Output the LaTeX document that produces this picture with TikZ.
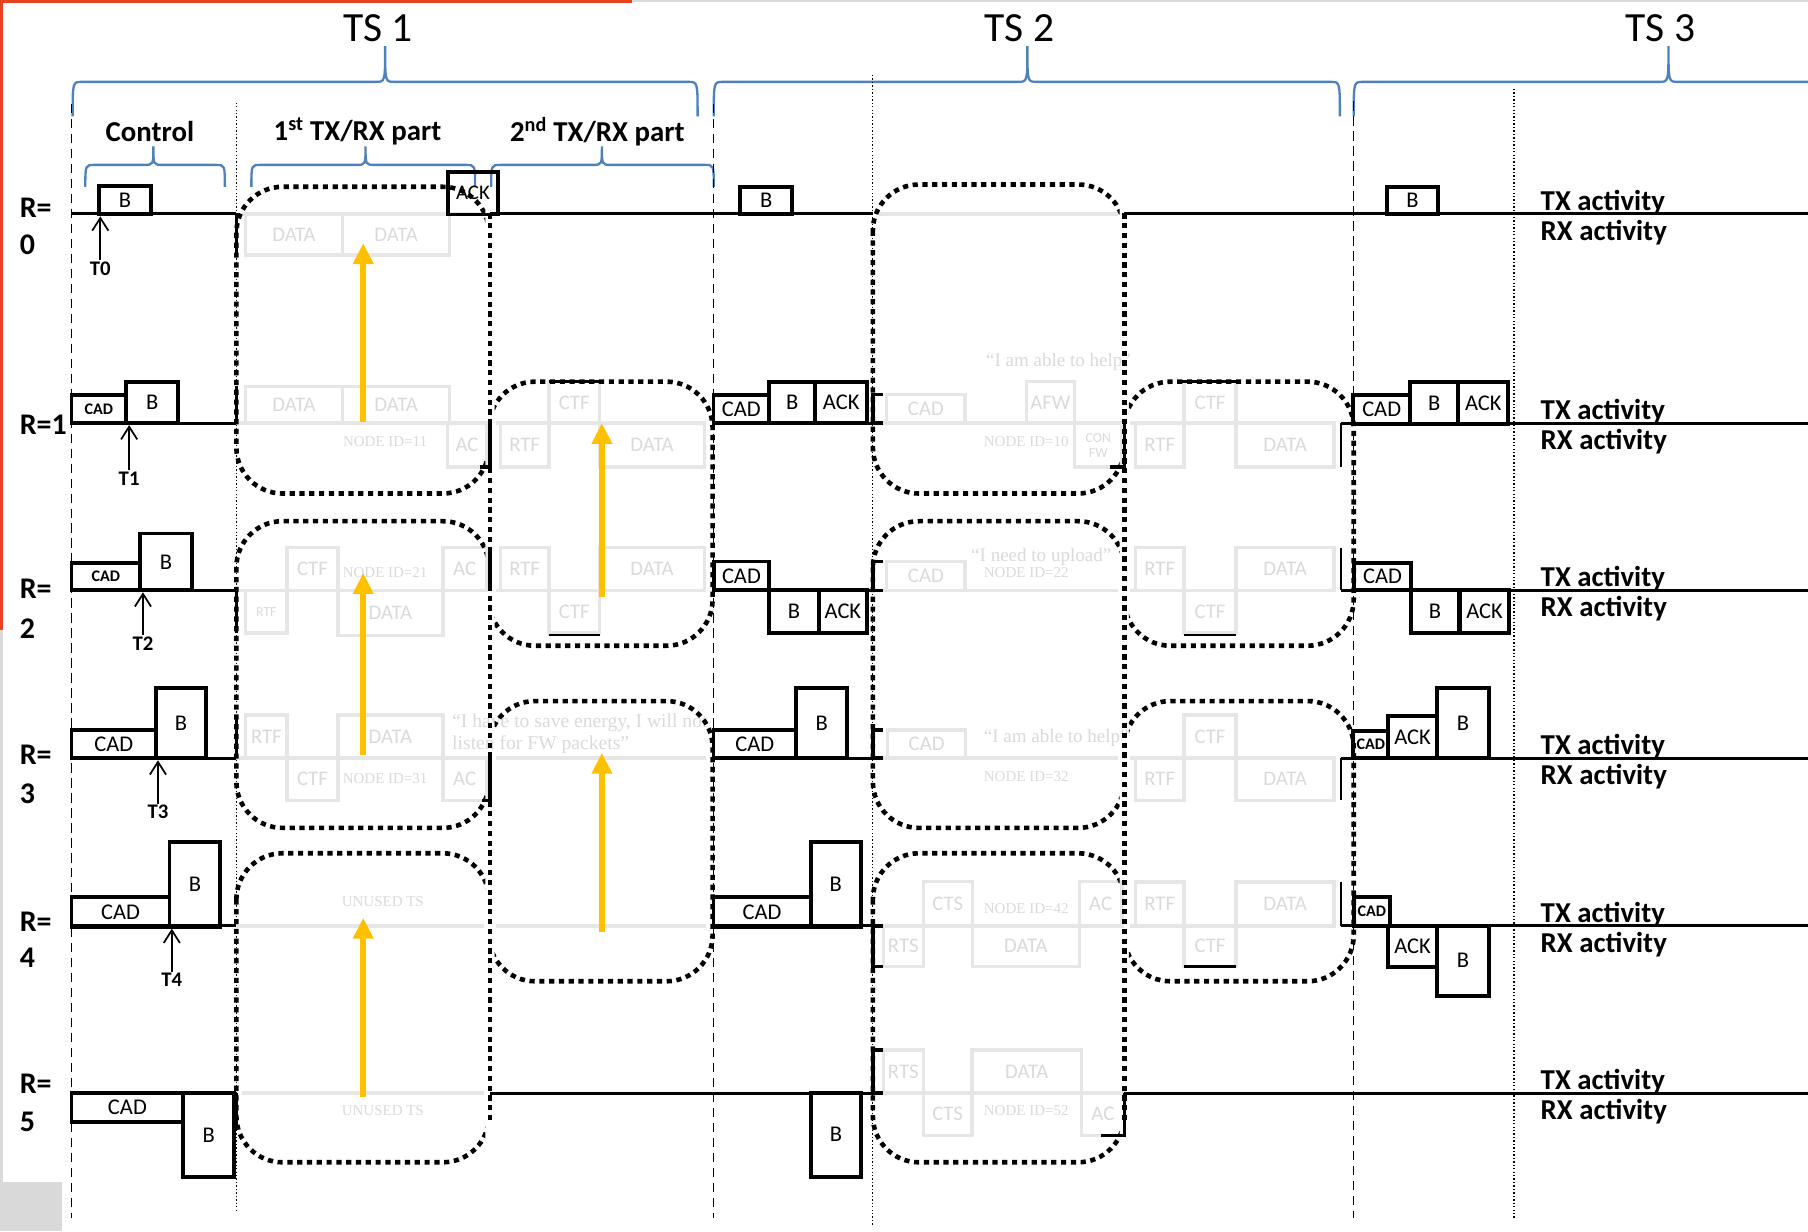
\documentclass[tikz,border=0pt]{standalone}
\usepackage{fontspec}
\setmainfont{Carlito}
\newfontfamily\fadeserif{Liberation Serif}
\usetikzlibrary{arrows.meta,fit}
\definecolor{bracec}{RGB}{79,129,189}
\definecolor{redc}{RGB}{233,66,30}
\definecolor{greyc}{RGB}{217,217,217}
\definecolor{fadel}{RGB}{230,230,230}
\definecolor{fadet}{RGB}{218,218,218}
\definecolor{yel}{RGB}{255,192,0}
\newcommand\pkbox[7][]{\node[pk,fit={(#3,#4) (#5,#6)}] (#2) {}; \node[pktext,#1] (#2t) at (#2.center) {#7};}
\newcommand\fdbox[7][]{\node[fbx,fit={(#3,#4) (#5,#6)}] (#2) {}; \node[fbtext,#1] (#2t) at (#2.center) {#7};}
\newcommand\hbr[6]{\draw[brc] (#1,#5) .. controls (#1,#4) .. (#1+8,#4) -- (#2-8,#4) .. controls (#2,#4) .. (#2,#6) .. controls (#2,#4) .. (#2+8,#4) -- (#3-8,#4) .. controls (#3,#4) .. (#3,#5);}
\begin{document}
\begin{tikzpicture}[x=1pt,y=-1pt,
 pk/.style={draw,line width=3.3pt,inner sep=0pt},
 pktext/.style={inner sep=0pt,font=\fontsize{19.5}{20}\selectfont},
 smallcad/.style={font=\bfseries\fontsize{14}{14}\selectfont},
 fbx/.style={draw=fadel,line width=3pt,inner sep=0pt},
 fbtext/.style={inner sep=0pt,text=fadet,font=\fontsize{18}{18}\selectfont},
 rowl/.style={line width=2.5pt},
 fadl/.style={draw=fadel,line width=3pt},
 bit/.style={line width=3pt},
 vdash/.style={line width=1.3pt,dash pattern=on 8pt off 5pt},
 vdot/.style={line width=1pt,dash pattern=on 1.2pt off 1.8pt},
 bdot/.style={line width=4pt,dash pattern=on 4.5pt off 4pt,rounded corners=40pt},
 vbdot/.style={line width=4pt,dash pattern=on 4.5pt off 4pt},
 brc/.style={draw=bracec,line width=2pt},
 tsf/.style={font=\fontsize{36}{40}\selectfont},
 partf/.style={font=\bfseries\fontsize{25}{28}\selectfont},
 rlab/.style={font=\bfseries\fontsize{26}{28}\selectfont,inner sep=0pt,anchor=west},
 tlab/.style={font=\bfseries\fontsize{18}{20}\selectfont,inner sep=1pt},
 act/.style={font=\bfseries\fontsize{25}{28}\selectfont,anchor=west,inner sep=0pt},
 fser/.style={font=\fadeserif\fontsize{13}{14}\selectfont,text=fadet,inner sep=0pt},
 fquote/.style={font=\fadeserif\fontsize{16.5}{18}\selectfont,text=fadet,inner sep=0pt},
 yarr/.style={draw=yel,line width=5pt,-{Triangle[length=18pt,width=17pt]}},
 tarr/.style={line width=1.5pt,-{Straight Barb[length=11pt,width=14pt]}}]
\useasboundingbox (0,0) rectangle (1568,1068);
\fill[white] (0,0) rectangle (1568,1068);
\fill[redc] (0,0) rectangle (548,2.5);
\fill[redc] (0,0) rectangle (3,546);
\fill[greyc] (548,0) rectangle (1568,2);
\fill[greyc] (0,546) rectangle (3,1025);
\fill[greyc] (0,1025) rectangle (54,1068);

% titles and braces
\node[tsf] (ts1) at (328,24) {TS 1};
\node[tsf] (ts2) at (884,24) {TS 2};
\node[tsf] (ts3) at (1440,24) {TS 3};
\hbr{63}{334}{605}{71}{101}{40}
\hbr{619}{891}{1162}{71}{101}{40}
\draw[brc] (1174,101) .. controls (1174,71) .. (1182,71) -- (1439,71) .. controls (1447,71) .. (1447,40) .. controls (1447,71) .. (1455,71) -- (1568,71);
\hbr{74}{133}{195}{143}{162}{127}
\hbr{218}{317}{412}{143}{162}{127}
\hbr{426}{522}{619}{143}{162}{127}
\node[partf] (pc) at (130,114) {Control};
\node[partf] (p1) at (310,114) {1\textsuperscript{st} TX/RX part};
\node[partf] (p2) at (518,114) {2\textsuperscript{nd} TX/RX part};

% vertical guides
\draw[vdash] (62,90) -- (62,1056);
\draw[vdash] (618.7,90) -- (618.7,1056);
\draw[vdash] (1174,88) -- (1174,1056);
\draw[vdot] (205,89) -- (205,1050);
\draw[vdot] (757,65) -- (757,1064);
\draw[vdot] (1313,77) -- (1313,1057);

% faded row lines
\foreach \y in {185.5,948} {\draw[fadl] (210,\y) -- (420,\y); \draw[fadl] (762,\y) -- (970,\y);}
\foreach \y in {367,512,657.5,803} {\draw[fadl] (205,\y) -- (420,\y); \draw[fadl] (430,\y) -- (612,\y); \draw[fadl] (762,\y) -- (970,\y); \draw[fadl] (980,\y) -- (1158,\y);}

% faded content TS1
\fdbox{fa01}{213}{185.5}{297}{221}{DATA}
\fdbox{fa02}{297}{185.5}{390}{221}{DATA}
\fdbox{fa11}{213}{335}{297}{367}{DATA}
\fdbox{fa12}{297}{335}{390}{367}{DATA}
\fdbox{fa13}{388}{367}{422}{405}{AC}
\node[fser] (fn11) at (334,383) {NODE ID=11};
\fdbox[font=\fontsize{12}{12}\selectfont]{fa21}{213}{512}{249}{549}{RTF}
\fdbox{fa22}{249}{475}{293}{512}{CTF}
\fdbox{fa23}{293}{512}{384}{551}{DATA}
\fdbox{fa24}{384}{475}{422}{512}{AC}
\node[fser] (fn21) at (334,497) {NODE ID=21};
\fdbox{fa31}{213}{620}{249}{657.5}{RTF}
\fdbox{fa32}{249}{657.5}{293}{694}{CTF}
\fdbox{fa33}{293}{620}{384}{657.5}{DATA}
\fdbox{fa34}{384}{657.5}{422}{694}{AC}
\node[fser] (fn31) at (334,675) {NODE ID=31};
\node[fser] (fu4) at (332,782) {UNUSED TS};
\node[fser] (fu5) at (332,963) {UNUSED TS};
\fdbox{fb11}{476}{331}{520}{367}{CTF}
\fdbox{fb12}{434}{367}{476}{405}{RTF}
\fdbox{fb13}{520}{367}{611}{405}{DATA}
\fdbox{fb21}{434}{475}{476}{512}{RTF}
\fdbox{fb22}{476}{512}{520}{549}{CTF}
\fdbox{fb23}{520}{475}{611}{512}{DATA}
\node[fquote,anchor=west,font=\fadeserif\fontsize{17}{18}\selectfont] (fq3a) at (392,627) {“I have to save energy, I will not};
\node[fquote,anchor=west,font=\fadeserif\fontsize{17}{18}\selectfont] (fq3b) at (392,646) {listen for FW packets”};

% faded content TS2
\fdbox{fc11}{769}{342}{837}{367}{CAD}
\fdbox{fc12}{890}{331}{932}{367}{AFW}
\fdbox[align=center,font=\fontsize{12}{13}\selectfont]{fc13}{932}{367}{973}{405}{CON\\FW}
\node[fser] (fn10) at (890,383) {NODE ID=10};
\node[fquote] (fq1) at (918,314) {“I am able to help”};
\fdbox{fc21}{769}{487}{837}{512}{CAD}
\node[fquote] (fq2) at (903,483) {“I need to upload”};
\node[fser] (fn22) at (890,497) {NODE ID=22};
\fdbox{fc31}{769.7}{633}{837.5}{657.5}{CAD}
\node[fquote,anchor=west] (fq4) at (853,640) {“I am able to help”};
\node[fser] (fn32) at (890,673.6) {NODE ID=32};
\fdbox{fc41}{766}{803}{800.7}{838}{RTS}
\fdbox{fc42}{800.7}{764.7}{843.3}{803}{CTS}
\fdbox{fc43}{843.3}{803}{936}{838}{DATA}
\fdbox{fc44}{936}{764.7}{973}{803}{AC}
\node[fser] (fn42) at (890,787.8) {NODE ID=42};
\fdbox{fc51}{766}{910.6}{800.7}{948}{RTS}
\fdbox{fc52}{843}{910.6}{938}{948}{DATA}
\fdbox{fc53}{800.7}{948}{843}{984.6}{CTS}
\fdbox{fc54}{938}{948}{975}{984.6}{AC}
\node[fser] (fn52) at (890,963.5) {NODE ID=52};
\fdbox{fd11}{1027}{331}{1072}{367}{CTF}
\fdbox{fd12}{984.6}{367}{1027}{405}{RTF}
\fdbox{fd13}{1072}{367}{1157}{405}{DATA}
\fdbox{fd21}{984.6}{475}{1027}{512}{RTF}
\fdbox{fd22}{1027}{512}{1072}{549}{CTF}
\fdbox{fd23}{1072}{475}{1157}{512}{DATA}
\fdbox{fd31}{1027}{620}{1072}{657.5}{CTF}
\fdbox{fd32}{984.6}{657.5}{1027}{694}{RTF}
\fdbox{fd33}{1072}{657.5}{1157}{694}{DATA}
\fdbox{fd41}{984.6}{765}{1027}{803}{RTF}
\fdbox{fd42}{1072}{765}{1157}{803}{DATA}
\fdbox{fd43}{1027}{803}{1072}{838}{CTF}

% yellow arrows
\coordinate (ya1s) at (315,366); \coordinate (ya1e) at (315,211);
\coordinate (ya2s) at (315,655); \coordinate (ya2e) at (315,497);
\coordinate (ya3s) at (315,951); \coordinate (ya3e) at (315,796);
\coordinate (ya4s) at (522,518); \coordinate (ya4e) at (522,367);
\coordinate (ya5s) at (522,808); \coordinate (ya5e) at (522,653);
\draw[yarr] (ya1s) -- (ya1e);
\draw[yarr] (ya2s) -- (ya2e);
\draw[yarr] (ya3s) -- (ya3e);
\draw[yarr] (ya4s) -- (ya4e);
\draw[yarr] (ya5s) -- (ya5e);

% R0 ACK box (under the dotted frame)
\pkbox[font=\fontsize{18}{18}\selectfont]{r0ack}{388.3}{149}{432}{186}{ACK}

% dotted rounded frames (the shared sides are drawn once as straight lines)
\begin{scope}
\clip (0,0) rectangle (421,1068);
\draw[bdot] (205,162) rectangle (424,428);
\draw[bdot] (205,452) rectangle (424,718);
\draw[bdot] (205,740) rectangle (424,1008);
\end{scope}
\begin{scope}
\clip (429,0) rectangle (971,1068);
\draw[bdot] (424,331) rectangle (618,560);
\draw[bdot] (424,608) rectangle (618,851);
\draw[bdot] (757,160) rectangle (975,428);
\draw[bdot] (757,452) rectangle (975,718);
\draw[bdot] (757,740) rectangle (975,1008);
\end{scope}
\begin{scope}
\clip (979,0) rectangle (1568,1068);
\draw[bdot] (975,331) rectangle (1174,560);
\draw[bdot] (975,608) rectangle (1174,851);
\end{scope}
\draw[vbdot] (425,185) -- (425,972);
\draw[vbdot] (975,185) -- (975,972);

% black row lines
\foreach \y in {185.5,948} {\draw[rowl] (62,\y) -- (205,\y); \draw[rowl] (425,\y) -- (757,\y); \draw[rowl] (975,\y) -- (1568,\y);}
\foreach \y in {367,512,657.5,803} {\draw[rowl] (62,\y) -- (205,\y); \draw[rowl] (618,\y) -- (757,\y); \draw[rowl] (1163,\y) -- (1568,\y);}

% black fragments at the edges of faded parts
\draw[bit] (205,185) -- (205,222);
\draw[bit] (205,335) -- (205,367);
\draw[bit] (205,512) -- (205,549);
\draw[bit] (205,620) -- (205,657);
\draw[bit] (205,948) -- (205,980);
\draw[bit] (425,367) -- (425,405) -- (416,405);
\draw[bit] (425,475) -- (425,512);
\draw[bit] (425,657) -- (425,694) -- (418,694);
\draw[bit] (476,331) -- (520,331);
\draw[line width=1.5pt] (476,551) -- (520,551);
\foreach \a/\b in {342/367,487/512,633/657.5,803/838,910.6/948} {\draw[bit] (766,\a) -- (757,\a) -- (757,\b) -- (766,\b);}
\draw[bit] (975,367) -- (975,405) -- (963,405);
\draw[bit] (975,948) -- (975,984.6) -- (955,984.6);
\draw[bit] (1023,331) -- (1072,331);
\draw[line width=1.5pt] (1027,551) -- (1072,551);
\draw[bit] (1027,838) -- (1072,838);
\foreach \a/\b in {367/405,475/512,657.5/694,765/803} {\draw[line width=2pt] (1163,\a) -- (1163,\b);}

% TS1 control packets
\pkbox{r0b}{85.6}{161.3}{131}{186}{B}
\pkbox[smallcad]{r1c}{62}{342.6}{109.5}{367}{CAD}
\pkbox{r1b}{109.5}{331}{154.5}{367}{B}
\pkbox[smallcad]{r2c}{62}{488}{121.5}{512}{CAD}
\pkbox{r2b}{121.5}{462.6}{166.5}{512}{B}
\pkbox{r3c}{62}{633}{135.4}{657.7}{CAD}
\pkbox{r3b}{135.4}{597}{178.4}{657.7}{B}
\pkbox{r4c}{62}{778}{147}{803.7}{CAD}
\pkbox{r4b}{147}{730}{191}{803.7}{B}
\pkbox{r5c}{62}{948}{159}{973}{CAD}
\pkbox{r5b}{159}{948}{203}{1020.5}{B}

% TS2 control packets
\pkbox{s0b}{642}{162}{687}{186}{B}
\pkbox{s1c}{618.7}{342.6}{667}{367}{CAD}
\pkbox{s1b}{667}{331}{707}{367}{B}
\pkbox{s1a}{707}{331}{752}{367}{ACK}
\pkbox{s2c}{619}{487}{667}{512}{CAD}
\pkbox{s2b}{667}{512}{710}{549}{B}
\pkbox{s2a}{710}{512}{752}{549}{ACK}
\pkbox{s3c}{618.7}{633}{690.3}{657.7}{CAD}
\pkbox{s3b}{690.3}{597}{734.9}{657.7}{B}
\pkbox{s4c}{618.7}{778}{703}{803.7}{CAD}
\pkbox{s4b}{703}{730}{746.5}{803.7}{B}
\pkbox{s5b}{703}{947.6}{747}{1020.5}{B}

% TS3 control packets
\pkbox{u0b}{1202.6}{162}{1247.4}{186}{B}
\pkbox{u1c}{1173.7}{342.6}{1222.8}{367.7}{CAD}
\pkbox{u1b}{1222.8}{331}{1264.7}{367.7}{B}
\pkbox{u1a}{1264.7}{331}{1308}{367.7}{ACK}
\pkbox{u2c}{1174}{488}{1224}{512}{CAD}
\pkbox{u2b}{1224}{512}{1265}{549}{B}
\pkbox{u2a}{1266}{512}{1309}{549}{ACK}
\pkbox[smallcad]{u3c}{1173.7}{634}{1204}{657.5}{CAD}
\pkbox{u3a}{1204}{620.6}{1246}{657.5}{ACK}
\pkbox{u3b}{1246}{596.8}{1291.6}{657.5}{B}
\pkbox[smallcad]{u4c}{1174}{777.7}{1205.5}{802.8}{CAD}
\pkbox{u4a}{1204}{802.8}{1246}{838.5}{ACK}
\pkbox{u4b}{1246}{802.8}{1291.6}{863.6}{B}

% T markers
\node[tlab] (t0) at (87,233) {T0};
\node[tlab] (t1) at (112,415) {T1};
\node[tlab] (t2) at (124,558) {T2};
\node[tlab] (t3) at (137,704) {T3};
\node[tlab] (t4) at (149,850) {T4};
\draw[tarr] (t0.north) -- (t0.north |- r0b.south);
\draw[tarr] (t1.north) -- (t1.north |- r1b.south);
\draw[tarr] (t2.north) -- (t2.north |- r2b.south);
\draw[tarr] (t3.north) -- (t3.north |- r3b.south);
\draw[tarr] (t4.north) -- (t4.north |- r4b.south);

% row labels
\node[rlab] (rl0a) at (17,180) {R=};
\node[rlab] (rl0b) at (17,212) {0};
\node[rlab] (rl1) at (17,368) {R=1};
\node[rlab] (rl2a) at (17,511) {R=};
\node[rlab] (rl2b) at (17,545) {2};
\node[rlab] (rl3a) at (17,655) {R=};
\node[rlab] (rl3b) at (17,688) {3};
\node[rlab] (rl4a) at (17,799) {R=};
\node[rlab] (rl4b) at (17,831) {4};
\node[rlab] (rl5a) at (17,940) {R=};
\node[rlab] (rl5b) at (17,973) {5};

% activity labels
\foreach \y/\n in {185.5/0,367/1,512/2,657.5/3,803/4,948/5} {
  \node[act] (tx\n) at (1336,\y-10) {TX activity};
  \node[act] (rx\n) at (1336,\y+16) {RX activity};
}
\end{tikzpicture}
\end{document}
